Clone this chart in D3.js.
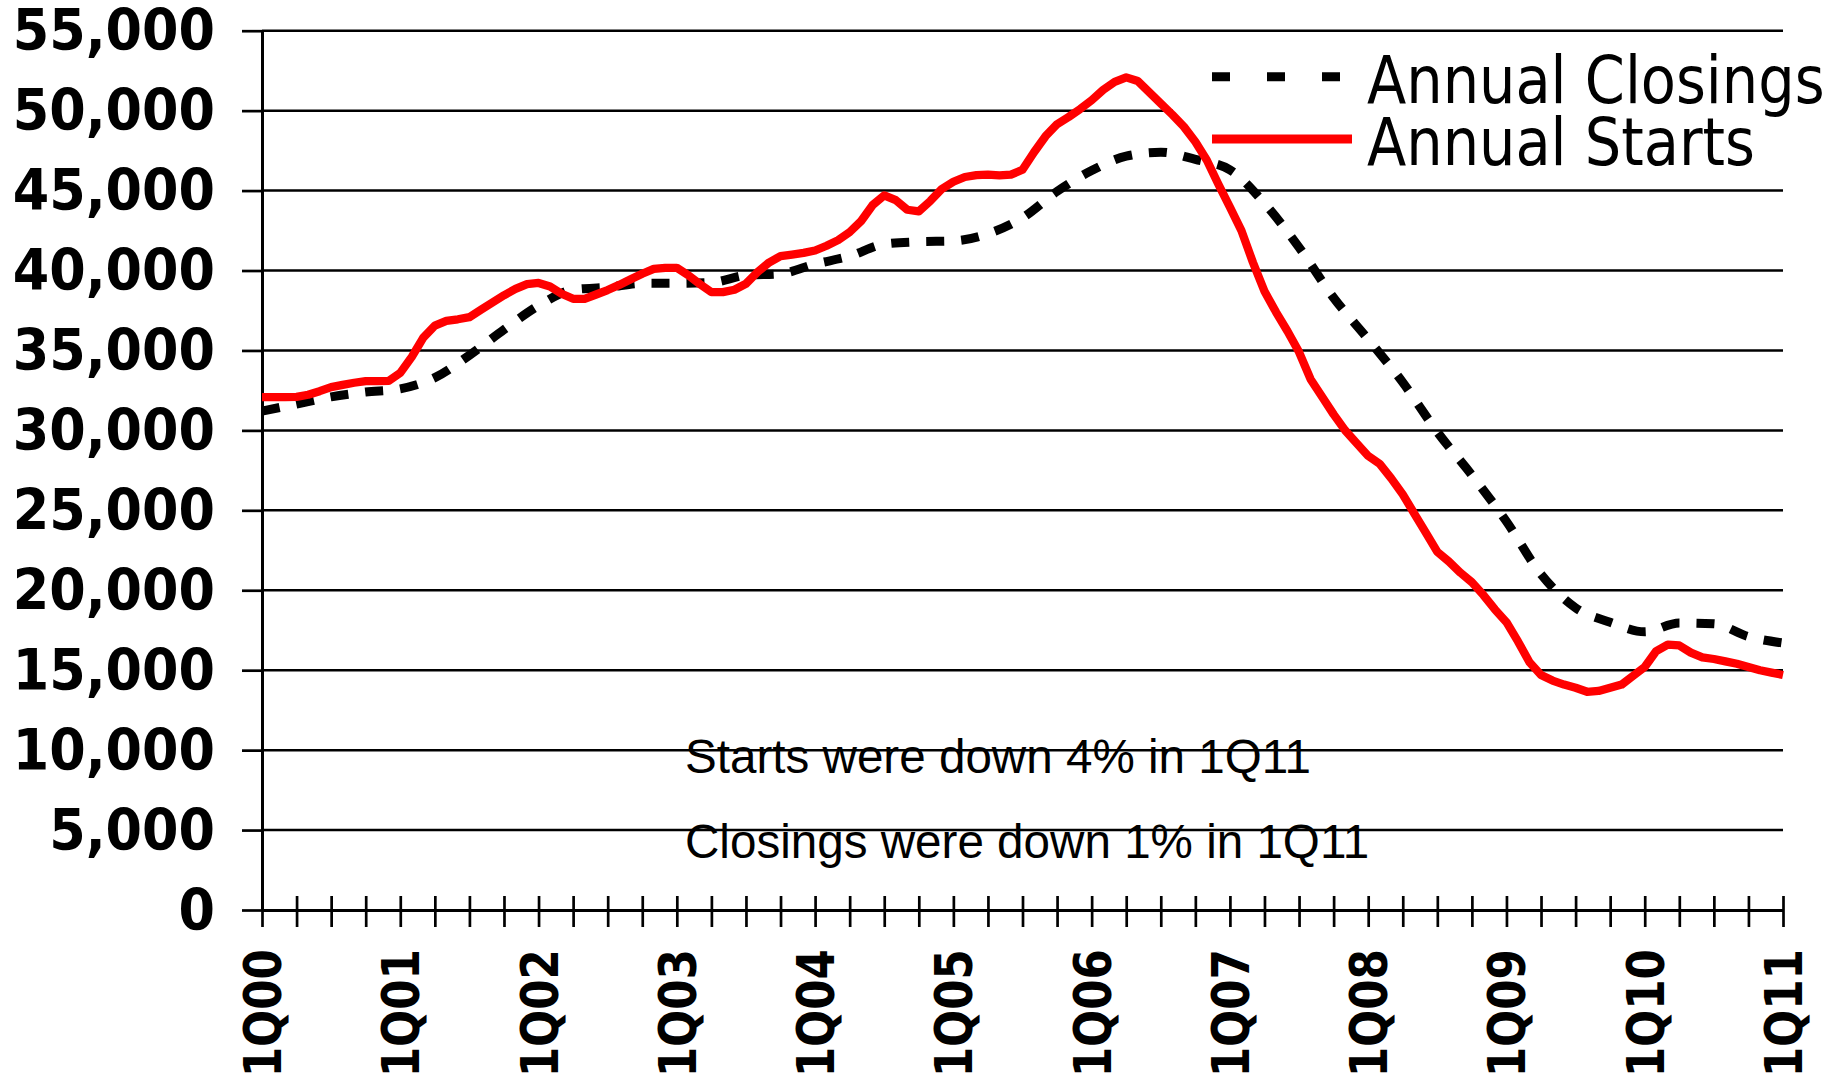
<!DOCTYPE html>
<html>
<head>
<meta charset="utf-8">
<script src="https://cdn.jsdelivr.net/npm/d3@7"></script>
<style>
	body { margin: 0; background: #fff; }
</style>
</head>
<body>
<svg id="chart" width="1839" height="1081"></svg>
<script>
// monthly, Jan 2000 .. Jan 2011 (trailing 12 months)
let startsMonthly = [
	32080, 32080, 32080, 32100, 32230, 32450, 32710, 32850, 32980, 33080, 33080, 33100,
	33600, 34600, 35800, 36550, 36850, 36950, 37080, 37550, 38000, 38450, 38850, 39150,
	39220, 39000, 38550, 38230, 38230, 38500, 38780, 39100, 39450, 39800, 40100, 40170,
	40170, 39700, 39150, 38650, 38650, 38800, 39170, 39900, 40500, 40900, 41000, 41100,
	41250, 41550, 41900, 42400, 43100, 44100, 44700, 44400, 43800, 43700, 44350, 45100,
	45550, 45850, 45960, 46000, 45950, 46000, 46300, 47400, 48400, 49150, 49600, 50100,
	50650, 51300, 51800, 52080, 51850, 51150, 50450, 49750, 49000, 48050, 46900, 45400,
	43960, 42500, 40500, 38700, 37400, 36200, 34900, 33200, 32100, 31000, 30000, 29200,
	28400, 27900, 27000, 26000, 24800, 23600, 22400, 21800, 21100, 20500, 19700, 18800,
	18000, 16800, 15500, 14700, 14350, 14100, 13900, 13650, 13700, 13900, 14100, 14650,
	15200, 16200, 16600, 16550, 16100, 15800, 15700, 15550, 15400, 15200, 15000, 14850, 14700
];
// quarterly, 1Q00 .. 1Q11
let closingsQuarterly = [
	31200, 31650, 32100, 32400, 32600, 33300, 34700, 36300, 37800, 38800, 38950, 39200,
	39200, 39250, 39700, 39800, 40400, 40900, 41650, 41800, 41850, 42300, 43300, 44950,
	46250, 47150, 47400, 46950, 46300, 44200, 41450, 38300, 35700, 33000, 29900, 27200,
	24300, 21000, 18900, 18000, 17400, 17950, 17900, 17100, 16700
];
let yearLabels = ['1Q00', '1Q01', '1Q02', '1Q03', '1Q04', '1Q05', '1Q06', '1Q07', '1Q08', '1Q09', '1Q10', '1Q11'];
let yTickValues = [0, 5000, 10000, 15000, 20000, 25000, 30000, 35000, 40000, 45000, 50000, 55000];
let legendNames = ['Annual Closings', 'Annual Starts'];
let notes = ['Starts were down 4% in 1Q11', 'Closings were down 1% in 1Q11'];

let svg = d3.select('svg#chart');
let x = d3.scaleLinear([0, startsMonthly.length - 1], [262, 1783]);
let y = d3.scaleLinear([0, 55000], [910, 30.7]);

// gridlines
svg.append('g').attr('class', 'grid')
	.selectAll('line')
	.data(yTickValues.filter(d => d > 0))
	.join('line')
	.attr('x1', x.range()[0]).attr('x2', x.range()[1])
	.attr('y1', d => y(d)).attr('y2', d => y(d))
	.attr('stroke', '#000')
	.attr('stroke-width', 2.5);

// y axis
let yAxis = svg.append('g')
	.attr('transform', 'translate(' + x.range()[0] + ',0)')
	.call(d3.axisLeft(y).tickValues(yTickValues).tickSizeInner(20).tickSizeOuter(0).tickFormat(''));
yAxis.select('.domain').attr('stroke', '#000').attr('stroke-width', 3);
yAxis.selectAll('.tick line').attr('stroke', '#000').attr('stroke-width', 2.7);

svg.append('g').attr('class', 'ylabels')
	.selectAll('text')
	.data(yTickValues)
	.join('text')
	.attr('transform', d => 'translate(215,' + (y(d) + 19.5) + ') scale(0.92,1)')
	.attr('text-anchor', 'end')
	.attr('font-family', 'DejaVu Sans')
	.attr('font-weight', 'bold')
	.attr('font-size', 57)
	.text(d => d3.format(',')(d));

// x axis, a tick per quarter
let quarterTicks = closingsQuarterly.map((d, i) => i * 3);
let xAxis = svg.append('g')
	.attr('transform', 'translate(0,' + y(0) + ')')
	.call(d3.axisBottom(x).tickValues(quarterTicks).tickSizeInner(17).tickSizeOuter(0).tickFormat(''));
xAxis.select('.domain').attr('stroke', '#000').attr('stroke-width', 3);
xAxis.selectAll('.tick line').attr('y1', -14).attr('stroke', '#000').attr('stroke-width', 2.7);

svg.append('g').attr('class', 'xlabels')
	.selectAll('text')
	.data(yearLabels)
	.join('text')
	.attr('transform', (d, i) => 'translate(' + (x(i * 12) + 19) + ',949) rotate(-90) scale(0.84,1)')
	.attr('text-anchor', 'end')
	.attr('font-family', 'DejaVu Sans')
	.attr('font-weight', 'bold')
	.attr('font-size', 52)
	.text(d => d);

// legend background hides the gridline behind it
svg.append('rect')
	.attr('x', 1173).attr('y', 37)
	.attr('width', 666).attr('height', 146)
	.attr('fill', '#fff');

// series
let closingsLine = d3.line()
	.x((d, i) => x(i * 3))
	.y(d => y(d))
	.curve(d3.curveMonotoneX);
let startsLine = d3.line()
	.x((d, i) => x(i))
	.y(d => y(d));

svg.append('path')
	.datum(closingsQuarterly)
	.attr('fill', 'none')
	.attr('stroke', '#000')
	.attr('stroke-width', 9)
	.attr('stroke-dasharray', '18,17')
	.attr('d', closingsLine);

svg.append('path')
	.datum(startsMonthly)
	.attr('fill', 'none')
	.attr('stroke', '#ff0000')
	.attr('stroke-width', 8.3)
	.attr('stroke-linejoin', 'round')
	.attr('d', startsLine);

// legend
let legend = svg.append('g').attr('class', 'legend');
legend.append('line')
	.attr('x1', 1212).attr('x2', 1341).attr('y1', 76.7).attr('y2', 76.7)
	.attr('stroke', '#000').attr('stroke-width', 9)
	.attr('stroke-dasharray', '18,37');
legend.append('line')
	.attr('x1', 1212).attr('x2', 1352).attr('y1', 139).attr('y2', 139)
	.attr('stroke', '#ff0000').attr('stroke-width', 9);
legend.selectAll('text')
	.data(legendNames)
	.join('text')
	.attr('transform', (d, i) => 'translate(1367,' + (103 + i * 62) + ') scale(0.87,1)')
	.attr('font-family', 'DejaVu Sans')
	.attr('font-size', 66)
	.text(d => d);

// notes
svg.append('g').attr('class', 'notes')
	.selectAll('text')
	.data(notes)
	.join('text')
	.attr('x', 685)
	.attr('y', (d, i) => 773 + i * 85)
	.attr('font-family', 'Liberation Sans')
	.attr('font-size', 47.6)
	.text(d => d);
</script>
</body>
</html>
